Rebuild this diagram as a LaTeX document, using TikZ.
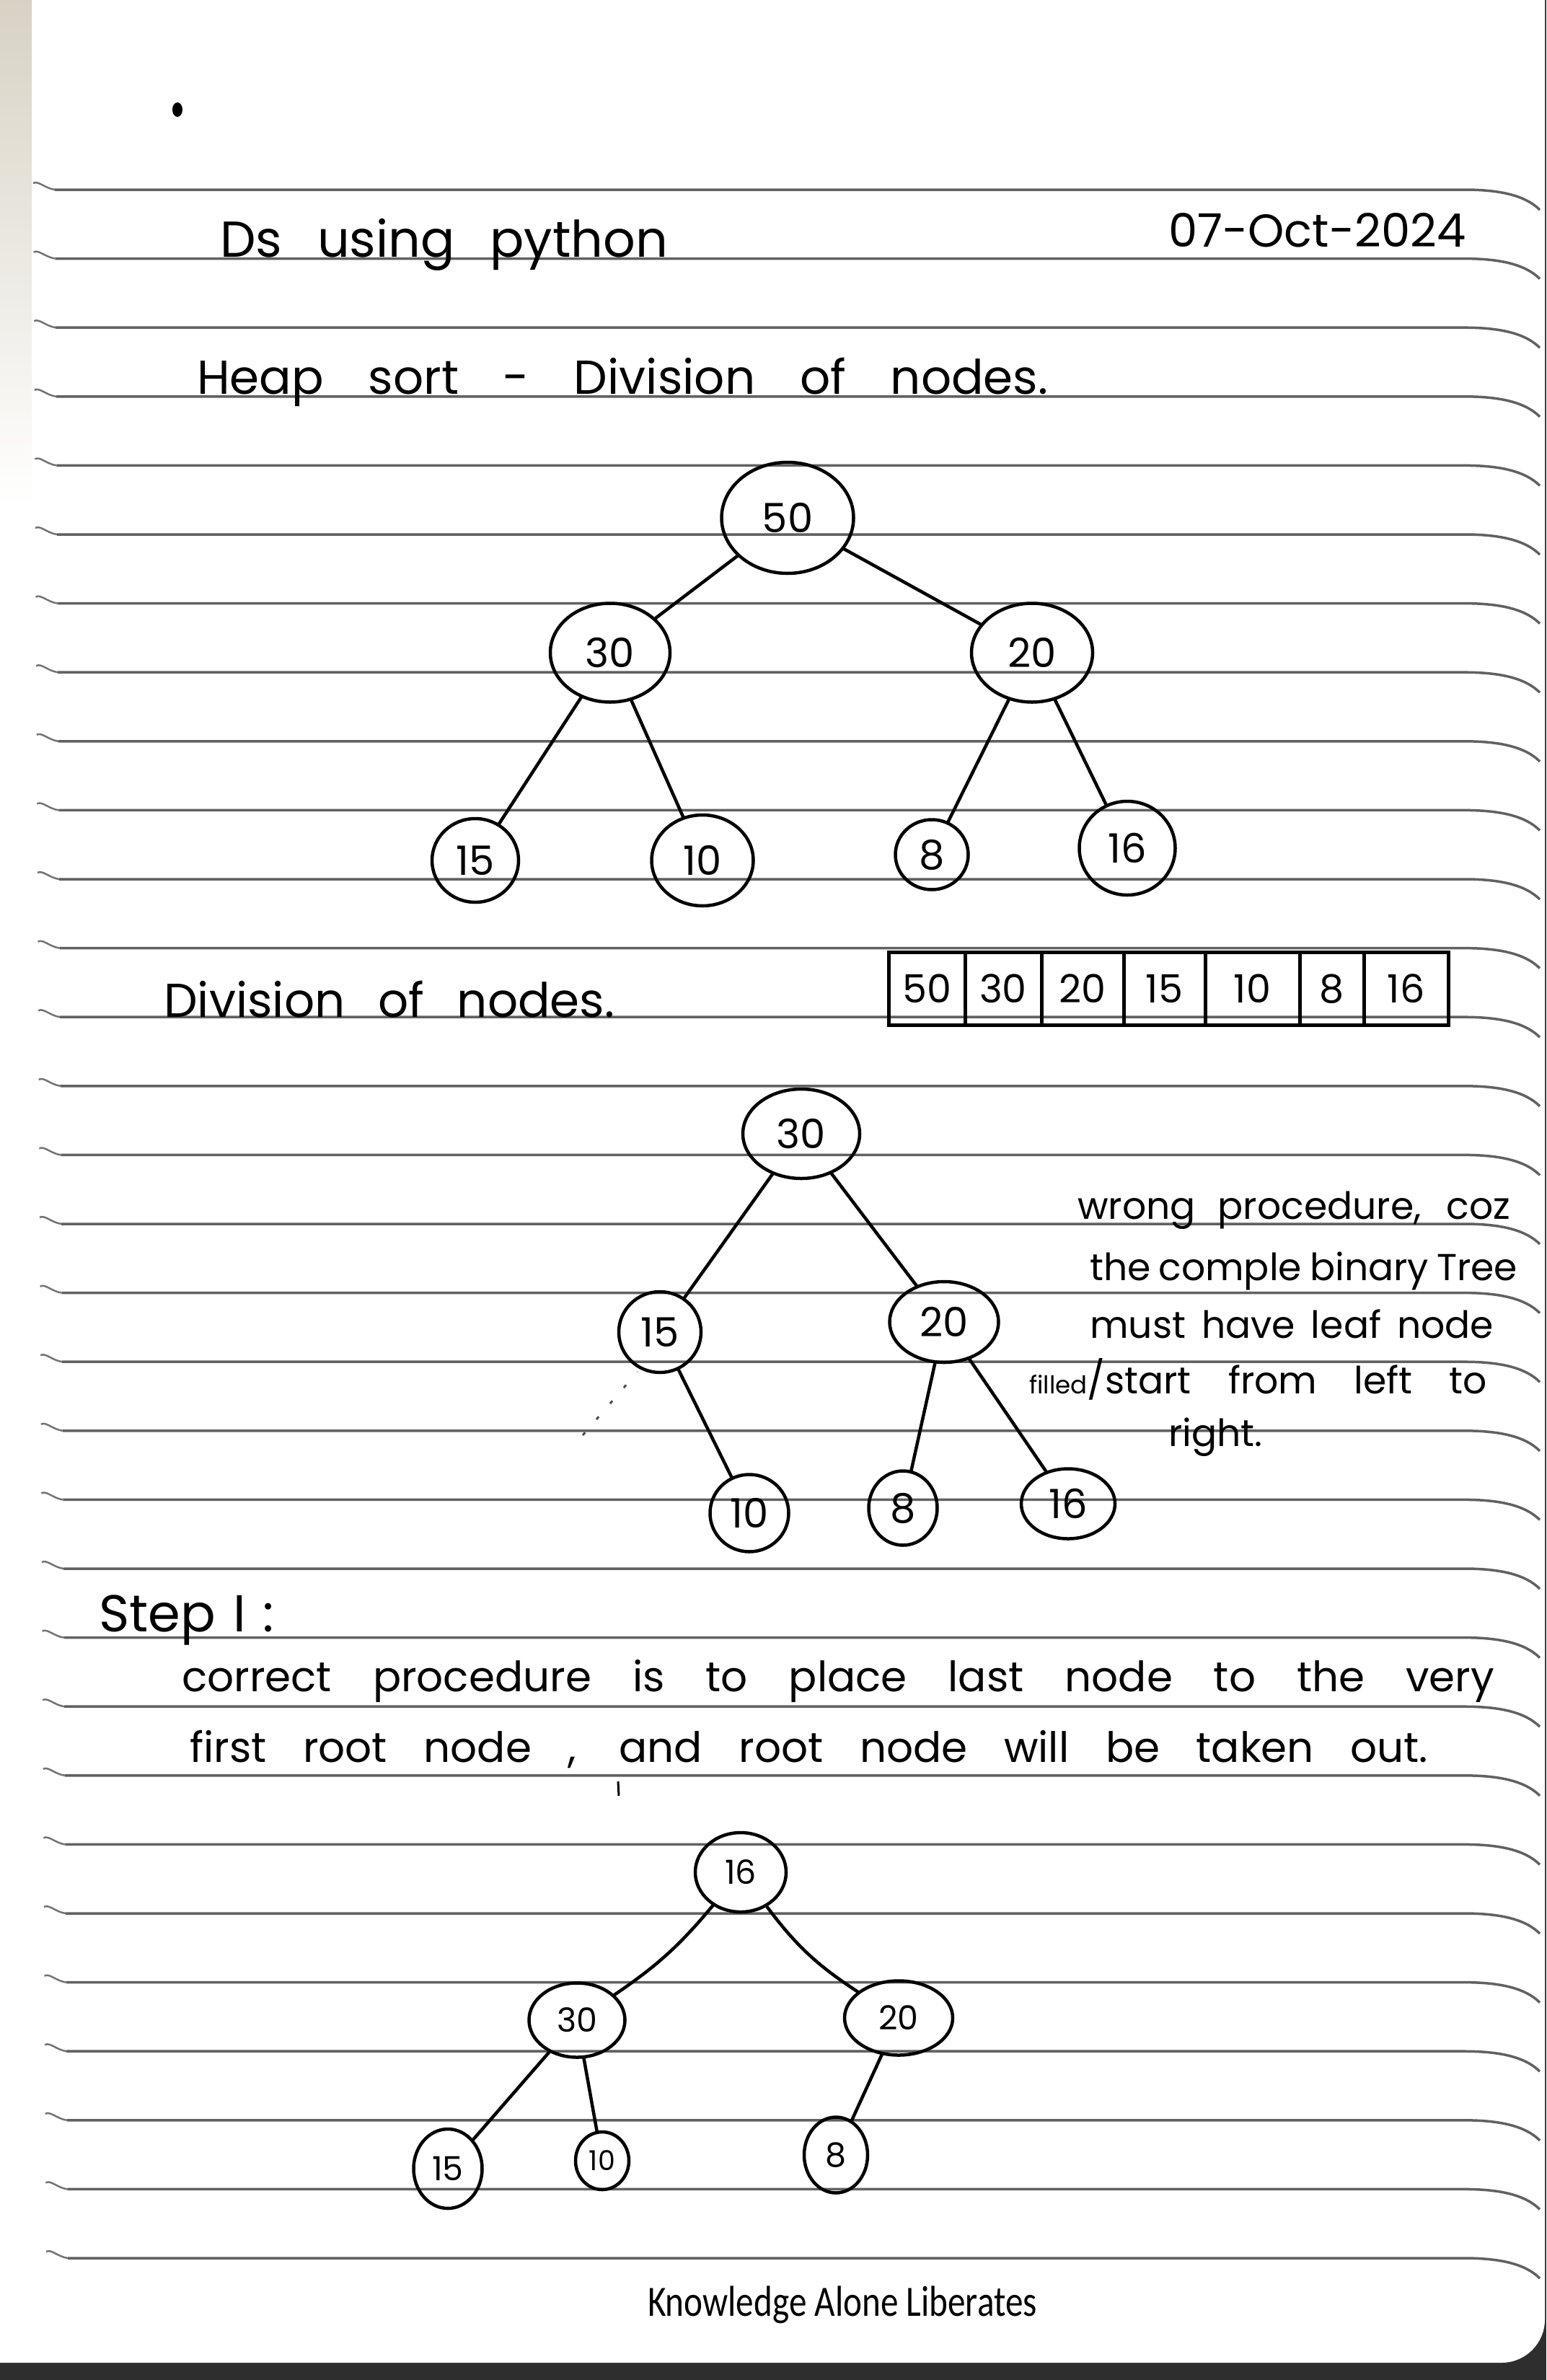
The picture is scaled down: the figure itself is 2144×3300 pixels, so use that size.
\documentclass[tikz,border=0pt]{standalone}
\usepackage{fontspec}
\newfontfamily\hand{Poppins}
\newfontfamily\foot{Carlito}
\usetikzlibrary{shapes.geometric}
\newcommand\hw[1]{\fontsize{#1}{#1}\selectfont\hand}
\begin{document}
\begin{tikzpicture}[x=1pt,y=-1pt,
  ruled/.style={line width=3.5pt, draw=black!62},
  tickm/.style={line width=2.5pt, draw=black!55},
  tnode/.style={ellipse, draw, line width=4.5pt, inner sep=0pt, font=\hw{56}},
  snode/.style={tnode, font=\hw{46}},
  edge/.style={line width=4.5pt, line cap=round},
  htext/.style={anchor=base west, inner sep=0pt, font=\hw{66}},
  ntext/.style={anchor=base west, inner sep=0pt, font=\hw{52}},
  cell/.style={rectangle, draw, line width=5pt, inner sep=0pt, minimum height=101pt, font=\hw{54}}
]
\useasboundingbox (0,0) rectangle (2144,3300);
% page
\fill[black!82] (0,0) rectangle (2144,3300);
\fill[white, rounded corners=60pt] (-120,-120) rectangle (2142,3276);
\shade[top color={rgb,255:red,215;green,210;blue,196}, bottom color=white] (0,0) rectangle (44,700);
% ruled lines
\foreach \i in {0,...,30}{
  \pgfmathsetmacro\yy{263+95.6*\i}
  \pgfmathsetmacro\xs{76+0.6*\i}
  \draw[ruled] (\xs,\yy) -- (2030,\yy) .. controls (2080,\yy) and (2115,\yy+8) .. (2135,\yy+28);
  \draw[tickm] (\xs-30,\yy-9) .. controls (\xs-23,\yy-13) and (\xs-14,\yy-2) .. (\xs,\yy);
}
% top dot
\fill (246,152) ellipse (7 and 10);
% headings
\node[htext, font=\hw{70}] (title) at (305,356) {\makebox[621pt][s]{Ds using python}};
\node[htext, font=\hw{64}] (date) at (1620,342) {07-Oct-2024};
\node[htext] (heap) at (273,546) {\makebox[1180pt][s]{Heap sort - Division of nodes.}};
% tree 1
\node[tnode, minimum width=183pt, minimum height=154pt] (a50) at (1092,718) {50};
\node[tnode, minimum width=166pt, minimum height=137pt] (a30) at (846,905) {30};
\node[tnode, minimum width=168pt, minimum height=137pt] (a20) at (1431,905) {20};
\node[tnode, minimum width=120pt, minimum height=116pt] (a15) at (659,1193) {15};
\node[tnode, minimum width=141pt, minimum height=126pt] (a10) at (974,1193) {10};
\node[tnode, minimum width=101pt, minimum height=97pt] (a8) at (1292,1185) {8};
\node[tnode, minimum width=133pt, minimum height=130pt] (a16) at (1563,1176) {16};
\draw[edge] (a50) -- (a30);
\draw[edge] (a50) -- (a20);
\draw[edge] (a30) -- (a15);
\draw[edge] (a30) -- (a10);
\draw[edge] (a20) -- (a8);
\draw[edge] (a20) -- (a16);
% array
\node[htext] (div) at (227,1410) {\makebox[625pt][s]{Division of nodes.}};
\node[cell, minimum width=106pt] (c1) at (1285,1371) {50};
\node[cell, minimum width=106pt] (c2) at (1391,1371) {30};
\node[cell, minimum width=114pt] (c3) at (1501,1371) {20};
\node[cell, minimum width=113pt] (c4) at (1614.5,1371) {15};
\node[cell, minimum width=131pt] (c5) at (1736.5,1371) {10};
\node[cell, minimum width=89pt] (c6) at (1846.5,1371) {8};
\node[cell, minimum width=117pt] (c7) at (1949.5,1371) {16};
% tree 2
\node[tnode, minimum width=162pt, minimum height=124pt] (b30) at (1111,1572) {30};
\node[tnode, minimum width=114pt, minimum height=112pt] (b15) at (915,1847) {15};
\node[tnode, minimum width=151pt, minimum height=112pt] (b20) at (1309,1833) {20};
\node[tnode, minimum width=109pt, minimum height=107pt] (b10) at (1039,2098) {10};
\node[tnode, minimum width=95pt, minimum height=103pt] (b8) at (1252,2091) {8};
\node[tnode, minimum width=130pt, minimum height=97pt] (b16) at (1481,2085) {16};
\draw[edge] (b30) -- (b15);
\draw[edge] (b30) -- (b20);
\draw[edge] (b15) -- (b10);
\draw[edge] (b20) -- (b8);
\draw[edge] (b20) -- (b16);
\draw[line width=3pt, black!70, dash pattern=on 5pt off 24pt] (808,1990) -- (884,1902);
% note
\node[ntext] (n1) at (1494,1690) {\makebox[600pt][s]{wrong procedure, coz}};
\node[ntext] (n2) at (1511,1775) {\makebox[593pt][s]{the comple binary Tree}};
\node[ntext] (n3) at (1511,1855) {\makebox[560pt][s]{must have leaf node}};
\node[ntext] (n4) at (1427,1932) {\makebox[635pt][s]{{\fontsize{34}{34}\selectfont filled}/start from left to}};
\node[ntext] (n5) at (1620,2005) {right.};
% step I
\node[htext, font=\hw{72}] (step) at (137,2262) {\makebox[243pt][s]{Step I :}};
\node[htext, font=\hw{58}] (s1) at (252,2345) {\makebox[1820pt][s]{correct procedure is to place last node to the very}};
\node[htext, font=\hw{58}] (s2) at (263,2443) {\makebox[1717pt][s]{first root node , and root node will be taken out.}};
\draw[line width=3pt] (857,2470) -- (858,2490);
% tree 3
\node[snode, minimum width=126pt, minimum height=110pt] (c16) at (1027,2596) {16};
\node[snode, minimum width=133pt, minimum height=103pt] (c30) at (800,2801) {30};
\node[snode, minimum width=150pt, minimum height=103pt] (c20) at (1246,2798) {20};
\node[snode, minimum width=95pt, minimum height=110pt] (c15) at (621,3007) {15};
\node[snode, minimum width=74pt, minimum height=80pt, font=\hw{38}] (c10) at (835,2996) {10};
\node[snode, minimum width=88pt, minimum height=105pt] (c8) at (1159,2988) {8};
\draw[edge] (c16) to[bend left=8] (c30);
\draw[edge] (c16) to[bend right=10] (c20);
\draw[edge] (c30) -- (c15);
\draw[edge] (c30) -- (c10);
\draw[edge] (c20) -- (c8);
% footer
\node[font=\fontsize{60}{60}\selectfont\foot, inner sep=0pt] (footer) at (1168,3196) {\scalebox{0.82}[1]{Knowledge Alone Liberates}};
\end{tikzpicture}
\end{document}
